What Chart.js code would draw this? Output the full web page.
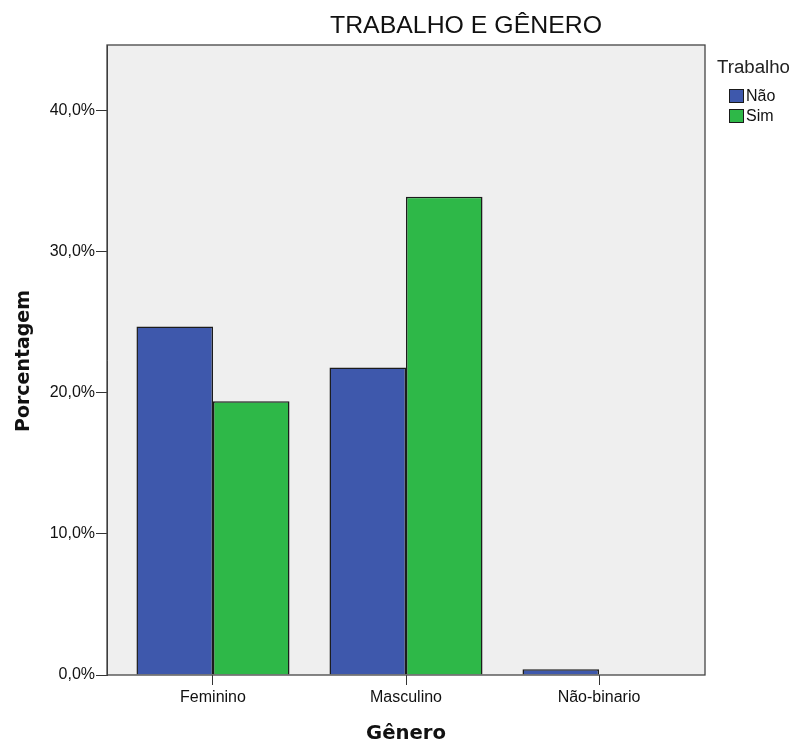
<!DOCTYPE html>
<html>
<head>
<meta charset="utf-8">
<script src="https://cdn.jsdelivr.net/npm/chart.js@4.4.1/dist/chart.umd.min.js"></script>
<style>
  html, body { margin: 0; padding: 0; background: #ffffff; }
  #wrap { width: 794px; height: 741px; position: relative; }
</style>
</head>
<body>
<div id="wrap"><canvas id="c" width="794" height="741"></canvas></div>
<script>
// ---- data ----
const categories = ['Feminino', 'Masculino', 'Não-binario'];
const seriesNames = ['Não', 'Sim'];
const naoValues = [24.7, 21.8, 0.4];
const simValues = [19.4, 33.9, 0];
const yTickValues = [0, 10, 20, 30, 40];
const chartTitle = 'TRABALHO E GÊNERO';
const legendTitle = 'Trabalho';
const xAxisTitle = 'Gênero';
const yAxisTitle = 'Porcentagem';

const colors = ['#3e58ac', '#2eb848'];
const PLOT_BG = '#efefef';

function fitText(ctx, text, x, y, font, targetWidth, align) {
  ctx.save();
  ctx.font = font;
  const w = ctx.measureText(text).width;
  const sx = targetWidth ? targetWidth / w : 1;
  ctx.translate(x, y);
  ctx.scale(sx, 1);
  ctx.textAlign = align || 'left';
  ctx.fillText(text, 0, 0);
  ctx.restore();
}

const decorPlugin = {
  id: 'decor',
  beforeDraw(chart) {
    const { ctx, chartArea: a } = chart;
    ctx.save();
    ctx.fillStyle = '#ffffff';
    ctx.fillRect(0, 0, chart.width, chart.height);
    ctx.fillStyle = PLOT_BG;
    ctx.fillRect(a.left, a.top, a.right - a.left, a.bottom - a.top);
    ctx.restore();
  },
  afterDraw(chart) {
    const { ctx, chartArea: a } = chart;
    ctx.save();
    // plot frame
    ctx.strokeStyle = '#444444';
    ctx.lineWidth = 1.3;
    ctx.strokeRect(a.left, a.top, a.right - a.left, a.bottom - a.top);

    ctx.fillStyle = '#111111';
    ctx.textBaseline = 'alphabetic';
    // chart title
    fitText(ctx, chartTitle, 466, 33, '24px "Liberation Sans", Arial, sans-serif', 272, 'center');
    // x axis title
    fitText(ctx, xAxisTitle, 406, 739, 'bold 19px "DejaVu Sans", sans-serif', 80, 'center');
    // y axis title (rotated)
    ctx.save();
    ctx.translate(29, 361);
    ctx.rotate(-Math.PI / 2);
    fitText(ctx, yAxisTitle, 0, 0, 'bold 19px "DejaVu Sans", sans-serif', 142, 'center');
    ctx.restore();

    // legend
    ctx.fillStyle = '#222222';
    fitText(ctx, legendTitle, 717, 73, '18px "Liberation Sans", Arial, sans-serif', 73, 'left');
    const boxTops = [89, 109];
    seriesNames.forEach((name, i) => {
      const y = boxTops[i];
      ctx.fillStyle = colors[i];
      ctx.fillRect(729, y, 15, 14);
      ctx.strokeStyle = '#1a1a1a';
      ctx.lineWidth = 1;
      ctx.strokeRect(729.5, y + 0.5, 14, 13);
      ctx.fillStyle = '#111111';
      ctx.textBaseline = 'middle';
      ctx.font = '16px "Liberation Sans", Arial, sans-serif';
      ctx.textAlign = 'left';
      ctx.fillText(name, 746, y + 8);
      ctx.textBaseline = 'alphabetic';
    });
    ctx.restore();
  }
};

const ctx = document.getElementById('c').getContext('2d');
new Chart(ctx, {
  type: 'bar',
  data: {
    labels: categories,
    datasets: [
      { label: seriesNames[0], data: naoValues, backgroundColor: colors[0], borderColor: '#1c1c1c', borderWidth: 1.5 },
      { label: seriesNames[1], data: simValues, backgroundColor: colors[1], borderColor: '#1c1c1c', borderWidth: 1.5 }
    ]
  },
  options: {
    responsive: false,
    animation: false,
    devicePixelRatio: 1,
    layout: { padding: { top: 45, right: 89, bottom: 0, left: 0 } },
    categoryPercentage: 0.793,
    barPercentage: 1.0,
    plugins: {
      legend: { display: false },
      title: { display: false },
      tooltip: { enabled: false }
    },
    scales: {
      x: {
        type: 'category',
        offset: false,
        grid: { display: true, drawOnChartArea: false, drawTicks: true, tickLength: 10, color: '#333333', offset: false, lineWidth: 1 },
        border: { display: false },
        ticks: { color: '#111111', font: { family: '"Liberation Sans", Arial, sans-serif', size: 16 }, padding: 3, maxRotation: 0, autoSkip: false },
        afterFit(s) { s.height = 66; },
        afterBuildTicks(s) {
          // category centres sit 106px in from each plot edge, 193px apart
          s._startValue = -0.5492;
          s._valueRange = 3.0984;
        }
      },
      y: {
        min: 0,
        max: 44.65,
        grid: { display: true, drawOnChartArea: false, drawTicks: true, tickLength: 11, color: '#333333' },
        border: { display: true, color: '#333333' },
        ticks: {
          stepSize: 10,
          includeBounds: false,
          padding: 1,
          color: '#111111',
          font: { family: '"Liberation Sans", Arial, sans-serif', size: 16 },
          callback: (v) => v.toFixed(1).replace('.', ',') + '%'
        },
        afterBuildTicks(s) { s.ticks = yTickValues.map(v => ({ value: v })); },
        afterFit(s) { s.width = 107; }
      }
    }
  },
  plugins: [decorPlugin]
});
</script>
</body>
</html>
